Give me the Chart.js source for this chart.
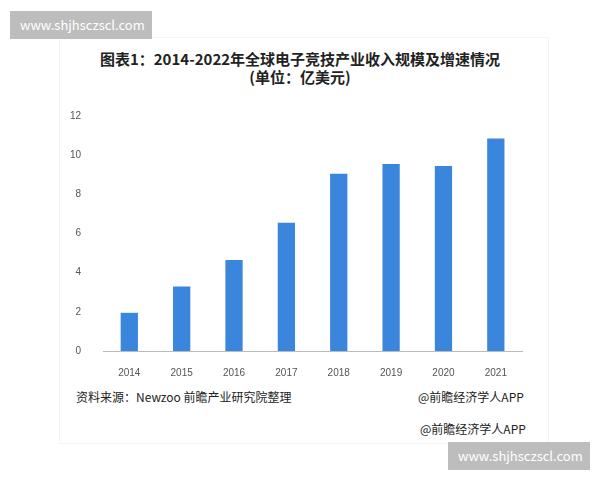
<!DOCTYPE html>
<html><head><meta charset="utf-8">
<script src="https://cdn.jsdelivr.net/npm/chart.js@4"></script>
<style>
body{margin:0;width:600px;height:480px;background:#fff;position:relative;font-family:"Noto Sans CJK SC","Noto Sans",sans-serif;overflow:hidden}
#frame{position:absolute;left:60px;top:38px;width:488px;height:405px;background:#fff;box-shadow:0 0 0 1px #f4f4f4}
.title{position:absolute;left:0;width:600px;text-align:center;font-weight:bold;font-size:15px;color:#222}
.wm{position:absolute;background:#bdbdbd;color:#fff;font-size:13px;padding:0 10px;line-height:28px}
.foot{position:absolute;font-size:12px;color:#222}
#c{position:absolute;left:56px;top:96px}
</style></head><body>
<div id="frame"></div>
<div class="wm" style="left:10px;top:11px;width:122px">www.shjhsczscl.com</div>
<div class="wm" style="left:448px;top:442px;width:122px">www.shjhsczscl.com</div>
<div class="title" style="top:48px">图表1：2014-2022年全球电子竞技产业收入规模及增速情况</div>
<div class="title" style="top:66px">(单位：亿美元)</div>
<div class="foot" style="left:76px;top:388px">资料来源：Newzoo 前瞻产业研究院整理</div>
<div class="foot" style="left:418px;top:388px">@前瞻经济学人APP</div>
<div class="foot" style="left:420px;top:420px">@前瞻经济学人APP</div>
<canvas id="c" width="478" height="291"></canvas>
<script>
const YEARS = ["2014", "2015", "2016", "2017", "2018", "2019", "2020", "2021"]
const REVENUE = [1.95, 3.3, 4.65, 6.55, 9.05, 9.55, 9.45, 10.85]
const Y_TICKS = [0, 2, 4, 6, 8, 10, 12]

new Chart(document.getElementById("c").getContext("2d"), {
    type: "bar",
    data: {
        labels: YEARS,
        datasets: [{ data: REVENUE, backgroundColor: "#3a86dc", barPercentage: 0.33, categoryPercentage: 1 }]
    },
    options: {
        responsive: false,
        animation: false,
        layout: { padding: { top: 8, right: 12 } },
        plugins: { legend: { display: false }, tooltip: { enabled: false } },
        scales: {
            y: {
                min: 0, max: 12,
                afterBuildTicks: a => { a.ticks = Y_TICKS.map(v => ({ value: v })) },
                grid: { display: false },
                border: { display: false },
                ticks: { color: "#555", font: { size: 10 }, padding: 14 }
            },
            x: {
                grid: { display: false },
                border: { color: "#bbb" },
                ticks: { color: "#555", font: { size: 10 }, padding: 8 }
            }
        }
    }
});
</script>
</body></html>
